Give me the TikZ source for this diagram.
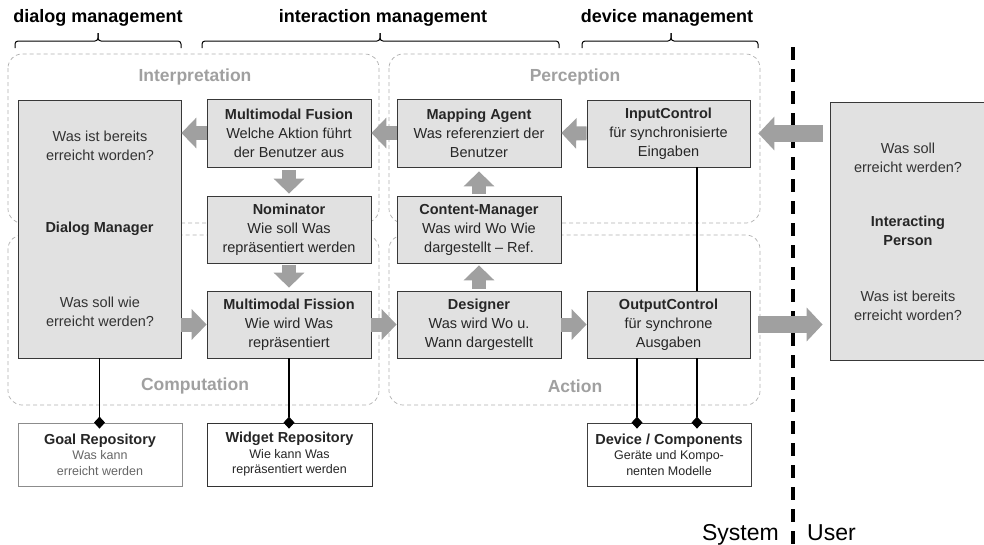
\documentclass[tikz,border=0pt]{standalone}
\usepackage{fontspec}
\setmainfont{Liberation Sans}
\usetikzlibrary{arrows.meta}
\definecolor{boxfill}{RGB}{225,225,225}
\definecolor{arrowgray}{RGB}{160,160,160}
\definecolor{regiongray}{RGB}{175,175,175}
\definecolor{labelgray}{RGB}{160,160,160}
\newcommand\myBody{\fontsize{14.5}{19}\selectfont}
\newcommand\mySmall{\fontsize{12.5}{15.5}\selectfont}
\tikzset{
  box/.style={draw=black!78, line width=0.8pt, fill=boxfill, align=center,
    font=\myBody, text=black!85, inner sep=0pt},
  repo/.style={draw=black!75, line width=0.8pt, fill=white, align=center,
    font=\mySmall, text=black!85, inner sep=0pt, minimum width=164pt, minimum height=63pt},
  plain/.style={align=center, font=\myBody, text=black!80, inner sep=0pt},
  region/.style={draw=regiongray, line width=0.7pt, dash pattern=on 4pt off 3pt, rounded corners=14pt},
  regionlabel/.style={font=\fontsize{17.5}{20}\selectfont\bfseries, text=labelgray, inner sep=0pt},
  header/.style={font=\fontsize{18}{21}\selectfont\bfseries, inner sep=0pt},
  bracestyle/.style={line width=1pt, rounded corners=3pt},
  bigarrow/.style={draw=arrowgray, line width=14pt, -{Triangle[length=15pt,width=30pt,fill=arrowgray]}},
  hugearrow/.style={draw=arrowgray, line width=17pt, -{Triangle[length=16pt,width=33pt,fill=arrowgray]}},
  conn/.style={line width=1.2pt, black, -{Diamond[length=12pt,width=11pt]}, shorten >=-6pt},
  sep/.style={line width=3.5pt, black, dash pattern=on 13pt off 9pt},
}
\begin{document}
\begin{tikzpicture}[x=1pt,y=-1pt]
\useasboundingbox (0,0) rectangle (984,544);

% headers
\node[header] (hdial) at (98,18) {dialog management};
\node[header] (hinter) at (383,18) {interaction management};
\node[header] (hdev) at (667,18) {device management};

% braces
\draw[bracestyle] (15,48) |- (98,41) -- (98,33);
\draw[bracestyle] (98,33) -- (98,41) -| (181,48);
\draw[bracestyle] (202,48) |- (380,41) -- (380,33);
\draw[bracestyle] (380,33) -- (380,41) -| (559,48);
\draw[bracestyle] (582,48) |- (671,41) -- (671,33);
\draw[bracestyle] (671,33) -- (671,41) -| (758,48);

% regions
\draw[region] (8,54) rectangle (379,223);
\draw[region] (389,54) rectangle (760,223);
\draw[region] (8,235) rectangle (379,405);
\draw[region] (389,235) rectangle (760,405);
\node[regionlabel] (linterp) at (195,77) {Interpretation};
\node[regionlabel] (lperc) at (575,77) {Perception};
\node[regionlabel] (lcomp) at (195,386) {Computation};
\node[regionlabel] (lact) at (575,386) {Action};

% separator
\coordinate (septop) at (793,47);
\coordinate (sepbot) at (793,548);
\draw[sep] (septop) -- (sepbot);

% boxes
\node[box, minimum width=163pt, minimum height=258pt] (dm) at (99.5,229) {\bfseries Dialog Manager};
\node[plain] (dmq1) at (100,146) {Was ist bereits\\erreicht worden?};
\node[plain] (dmq2) at (100,312) {Was soll wie\\erreicht werden?};

\node[box, minimum width=164pt, minimum height=68pt] (fusion) at (289,133)
  {{\bfseries Multimodal Fusion}\\Welche Aktion führt\\der Benutzer aus};
\node[box, minimum width=164pt, minimum height=67pt] (nomin) at (289,229.5)
  {{\bfseries Nominator}\\Wie soll Was\\repräsentiert werden};
\node[box, minimum width=164pt, minimum height=67pt] (fission) at (289,324.5)
  {{\bfseries Multimodal Fission}\\Wie wird Was\\repräsentiert};

\node[box, minimum width=164pt, minimum height=68pt] (mapping) at (479,133)
  {{\bfseries Mapping Agent}\\Was referenziert der\\Benutzer};
\node[box, minimum width=164pt, minimum height=67pt] (content) at (479,229.5)
  {{\bfseries Content-Manager}\\Was wird Wo Wie\\dargestellt -- Ref.};
\node[box, minimum width=164pt, minimum height=67pt] (designer) at (479,324.5)
  {{\bfseries Designer}\\Was wird Wo u.\\Wann dargestellt};

\node[box, minimum width=163pt, minimum height=67pt] (input) at (668.5,133.5)
  {{\bfseries InputControl}\\für synchronisierte\\Eingaben};
\node[box, minimum width=163pt, minimum height=67pt] (output) at (668.5,324.5)
  {{\bfseries OutputControl}\\für synchrone\\Ausgaben};

\node[box, minimum width=156pt, minimum height=258pt] (person) at (908,231)
  {\bfseries Interacting\\\bfseries Person};
\node[plain] (pq1) at (908,158) {Was soll\\erreicht werden?};
\node[plain] (pq2) at (908,306) {Was ist bereits\\erreicht worden?};

% repositories
\node[repo, draw=black!45] (goal) at (100,454.5)
  {{\fontsize{14.5}{18}\selectfont\bfseries Goal Repository}\\\textcolor{black!60}{Was kann}\\\textcolor{black!60}{erreicht werden}};
\node[repo, draw=black!80, minimum width=165pt] (widget) at (289.5,454.5)
  {{\fontsize{14.5}{18}\selectfont\bfseries Widget Repository}\\Wie kann Was\\repräsentiert werden};
\node[repo] (device) at (669,454.5)
  {{\fontsize{14.5}{18}\selectfont\bfseries Device / Components}\\Geräte und Kompo-\\nenten Modelle};

% system / user
\node[anchor=base east, font=\fontsize{23}{26}\selectfont, inner sep=0pt] (system) at (779,540) {System};
\node[anchor=base west, font=\fontsize{23}{26}\selectfont, inner sep=0pt] (user) at (807,540) {User};

% block arrows
\draw[bigarrow] (fusion.west) -- (fusion.west -| dm.east);
\draw[bigarrow] (mapping.west) -- (fusion.east);
\draw[bigarrow] (input.west) -- (mapping.east);
\draw[hugearrow, shorten <=7pt, shorten >=8pt] (person.west |- input.east) -- (input.east);
\draw[bigarrow, shorten <=3pt, shorten >=2pt] (fusion.south) -- (nomin.north);
\draw[bigarrow, shorten <=2pt, shorten >=3pt] (nomin.south) -- (fission.north);
\draw[bigarrow] (fission.west -| dm.east) -- (fission.west);
\draw[bigarrow] (fission.east) -- (designer.west);
\draw[bigarrow] (designer.east) -- (output.west);
\draw[bigarrow, shorten <=2pt, shorten >=2pt] (designer.north) -- (content.south);
\draw[bigarrow, shorten <=2pt, shorten >=4pt] (content.north) -- (mapping.south);
\draw[hugearrow, shorten <=8pt, shorten >=7pt] (output.east) -- (output.east -| person.west);

% connectors
\draw[conn] (dm.south) -- (dm.south |- goal.north);
\draw[conn] (fission.south) -- (fission.south |- widget.north);
\coordinate (oleft) at ([xshift=-31.5pt]output.south);
\draw[conn] (oleft) -- (oleft |- device.north);
\coordinate (iright) at ([xshift=28.5pt]input.south);
\draw[line width=1.2pt] (iright) -- (iright |- output.north);
\coordinate (oright) at ([xshift=28.5pt]output.south);
\draw[conn] (oright) -- (oright |- device.north);
\end{tikzpicture}
\end{document}
